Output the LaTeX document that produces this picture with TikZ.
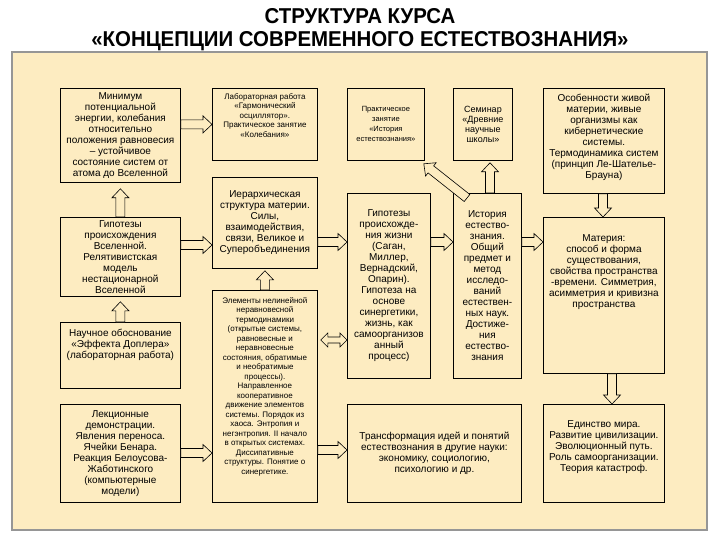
\documentclass[tikz,border=0pt]{standalone}
\usepackage{fontspec}
\setmainfont{Liberation Sans}
\newfontfamily\titlefont[FakeStretch=0.95]{Liberation Sans}
\usetikzlibrary{calc}
\definecolor{panel}{RGB}{253,236,193}
\definecolor{frame}{RGB}{150,150,150}

\newcommand{\fatarrow}[2]{%
  \coordinate (s) at #1;
  \coordinate (e) at #2;
  \coordinate (h) at ($(e)!9pt!(s)$);
  \draw[fatarr] ($(s)!4.5pt!90:(e)$) -- ($(h)!4.5pt!90:(e)$) -- ($(h)!8.5pt!90:(e)$) -- (e)
    -- ($(h)!8.5pt!-90:(e)$) -- ($(h)!4.5pt!-90:(e)$) -- ($(s)!4.5pt!-90:(e)$) -- cycle;}
\newcommand{\dblarrow}[2]{%
  \coordinate (s) at #1;
  \coordinate (e) at #2;
  \coordinate (hs) at ($(s)!7pt!(e)$);
  \coordinate (he) at ($(e)!7pt!(s)$);
  \draw[fatarr] (s) -- ($(hs)!7pt!90:(e)$) -- ($(hs)!3pt!90:(e)$) -- ($(he)!3pt!90:(e)$) -- ($(he)!7pt!90:(e)$) -- (e)
    -- ($(he)!7pt!-90:(e)$) -- ($(he)!3pt!-90:(e)$) -- ($(hs)!3pt!-90:(e)$) -- ($(hs)!7pt!-90:(e)$) -- cycle;}

\begin{document}
\begin{tikzpicture}[x=1pt, y=-1pt,
  blk/.style={draw, fill=panel, line width=0.8pt, inner sep=0pt, anchor=north west, align=center, font=\fontsize{10}{11}\selectfont},
  smalltxt/.style={font=\fontsize{8}{9.5}\selectfont},
  sz/.style 2 args={minimum width=#1pt, minimum height=#2pt},
  topalign/.style 2 args={text height=#1pt, text depth=#2pt},
  fatarr/.style={draw, fill=panel, line width=0.6pt, line join=miter},
  title/.style={font=\titlefont\bfseries\fontsize{21.5}{24}\selectfont}]
\useasboundingbox (0,0) rectangle (720,540);
\draw[frame, line width=1.5pt, fill=panel] (12,52) rectangle (707,530);

\node[title] (head1) at (360,16) {СТРУКТУРА КУРСА};
\node[title] (head2) at (360,41) {«КОНЦЕПЦИИ СОВРЕМЕННОГО ЕСТЕСТВОЗНАНИЯ»};

\node[blk, sz={120}{94}] (minimum) at (60,88) {Минимум\\потенциальной\\энергии, колебания\\относительно\\положения равновесия\\– устойчивое\\состояние систем от\\атома до Вселенной};
\node[blk, sz={120}{79}] (universe) at (60,217) {Гипотезы\\происхождения\\Вселенной.\\Релятивистская\\модель\\нестационарной\\Вселенной};
\node[blk, sz={120}{66}, topalign={36}{30}] (doppler) at (60,322) {Научное обоснование\\«Эффекта Доплера»\\(лабораторная работа)};
\node[blk, sz={120}{98}] (demo) at (60,404) {Лекционные\\демонстрации.\\Явления переноса.\\Ячейки Бенара.\\Реакция Белоусова-\\Жаботинского\\(компьютерные\\модели)};

\node[blk, smalltxt, sz={105}{72}, topalign={49}{23}] (lab) at (212,88) {Лабораторная работа\\«Гармонический\\осциллятор».\\Практическое занятие\\«Колебания»};
\node[blk, sz={105}{91}] (hier) at (212,177) {Иерархическая\\структура материи.\\Силы,\\взаимодействия,\\связи, Великое и\\Суперобъединения};
\node[blk, smalltxt, sz={105}{212}, topalign={184}{28}] (nonlin) at (212,290) {Элементы нелинейной\\неравновесной\\термодинамики\\(открытые системы,\\равновесные и\\неравновесные\\состояния, обратимые\\и необратимые\\процессы).\\Направленное\\кооперативное\\движение элементов\\системы. Порядок из\\хаоса. Энтропия и\\негэнтропия. II начало\\в открытых системах.\\Диссипативные\\структуры. Понятие о\\синергетике.};

\node[blk, font=\fontsize{7.5}{10}\selectfont, sz={77}{72}] (practice) at (347,88) {Практическое\\занятие\\«История\\естествознания»};
\node[blk, sz={83}{185}] (life) at (347,193) {Гипотезы\\происхожде-\\ния жизни\\(Саган,\\Миллер,\\Вернадский,\\Опарин).\\Гипотеза на\\основе\\синергетики,\\жизнь, как\\самоорганизов\\анный\\процесс)};
\node[blk, sz={174}{98}] (transf) at (347,404) {Трансформация идей и понятий\\естествознания в другие науки:\\экономику, социологию,\\психологию и др.};

\node[blk, font=\fontsize{9}{10}\selectfont, sz={59}{72}] (school) at (453,88) {Семинар\\«Древние\\научные\\школы»};
\node[blk, sz={68}{185}] (history) at (453,193) {История\\естество-\\знания.\\Общий\\предмет и\\метод\\исследо-\\ваний\\естествен-\\ных наук.\\Достиже-\\ния\\естество-\\знания};

\node[blk, sz={121}{105}, topalign={90}{15}] (living) at (543,88) {Особенности живой\\материи, живые\\организмы как\\кибернетические\\системы.\\Термодинамика систем\\(принцип Ле-Шателье-\\Брауна)};
\node[blk, sz={121}{156}, topalign={90}{66}] (matter) at (543,217) {Материя:\\способ и форма\\существования,\\свойства пространства\\-времени. Симметрия,\\асимметрия и кривизна\\пространства};
\node[blk, sz={121}{98}, topalign={67}{31}] (unity) at (543,404) {Единство мира.\\Развитие цивилизации.\\Эволюционный путь.\\Роль самоорганизации.\\Теория катастроф.};

\fatarrow{(minimum.east |- lab.west)}{(lab.west)}
\fatarrow{(universe.north)}{($(minimum.south)+(0,6)$)}
\fatarrow{(doppler.north)}{($(universe.south)+(0,5)$)}
\fatarrow{(universe.east |- 0,245)}{(hier.west |- 0,245)}
\fatarrow{(nonlin.north)}{($(hier.south)+(0,2)$)}
\fatarrow{(demo.east |- 0,453)}{(nonlin.west |- 0,453)}
\fatarrow{(hier.east |- 0,242)}{(life.west |- 0,242)}
\dblarrow{($(nonlin.east |- 0,340)+(3,0)$)}{(life.west |- 0,340)}
\fatarrow{(nonlin.east |- 0,450)}{(transf.west |- 0,450)}
\fatarrow{(life.east |- 0,242)}{(history.west |- 0,242)}
\fatarrow{(history.east |- 0,242)}{(matter.west |- 0,242)}
\fatarrow{(history.north -| 490,0)}{($(school.south -| 490,0)+(0,2)$)}
\fatarrow{($(history.north west)+(14,5)$)}{($(practice.south east)+(-1,3)$)}
\fatarrow{(living.south -| 603,0)}{(matter.north -| 603,0)}
\fatarrow{(matter.south -| 612,0)}{(unity.north -| 612,0)}
\end{tikzpicture}
\end{document}
